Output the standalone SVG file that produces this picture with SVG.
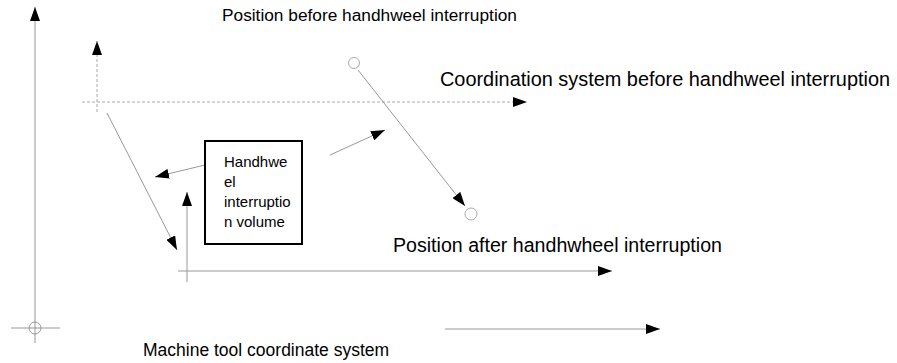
<svg xmlns="http://www.w3.org/2000/svg" width="897" height="363" viewBox="0 0 897 363">
<defs>
<style>
text{font-family:"Liberation Sans",Arial,sans-serif;fill:#000}
.ax{stroke:#999;stroke-width:1;fill:none}
.lt{stroke:#ccc;stroke-width:2;fill:none}
.da{stroke:#aaa;stroke-width:1;stroke-dasharray:3,2;fill:none}
.th{stroke:#999;stroke-width:1;fill:none}
.ci{stroke:#aaa;stroke-width:1;fill:#fff}
.co{stroke:#999;stroke-width:1;fill:none}
</style>
<marker id="ah" viewBox="0 0 14 10" refX="14" refY="5" markerWidth="14" markerHeight="10" markerUnits="userSpaceOnUse" orient="auto">
<path d="M0,0 L14,5 L0,10 Z" fill="#000"/>
</marker>
</defs>
<rect width="897" height="363" fill="#fff"/>
<g id="connectors">
<line class="ax" x1="35" y1="343" x2="35" y2="7" marker-end="url(#ah)"/>
<line class="ax" x1="11" y1="328" x2="60" y2="328"/>
<line class="lt" x1="445" y1="329" x2="660" y2="329" marker-end="url(#ah)"/>
<line class="da" x1="97" y1="112" x2="97" y2="41" marker-end="url(#ah)"/>
<line class="da" x1="82" y1="102" x2="527" y2="102" marker-end="url(#ah)"/>
<line class="th" x1="107" y1="113" x2="177" y2="250" marker-end="url(#ah)"/>
<line class="ax" x1="187" y1="282" x2="187" y2="192" marker-end="url(#ah)"/>
<line class="ax" x1="178" y1="271" x2="612" y2="271" marker-end="url(#ah)"/>
<line class="th" x1="205" y1="165" x2="155" y2="177" marker-end="url(#ah)"/>
<line class="th" x1="330" y1="155" x2="385" y2="130" marker-end="url(#ah)"/>
<line class="th" x1="358" y1="70" x2="465" y2="206" marker-end="url(#ah)"/>
</g>
<g id="origin"><circle class="co" cx="35" cy="328" r="6"/></g>
<g id="pos-before"><circle class="ci" cx="354" cy="63" r="5.5"/></g>
<g id="pos-after"><circle class="ci" cx="471" cy="214" r="6"/></g>
<g id="volume-box">
<rect x="205" y="141" width="97" height="103" fill="#fff" stroke="#000" stroke-width="2"/>
<text font-size="15"><tspan x="224" y="167">Handhwe</tspan><tspan x="224" y="187">el</tspan><tspan x="224" y="207">interruptio</tspan><tspan x="224" y="227">n volume</tspan></text>
</g>
<g id="labels">
<text x="222" y="21" font-size="17.3">Position before handhweel interruption</text>
<text x="440" y="86" font-size="19.9">Coordination system before handhweel interruption</text>
<text x="393" y="252" font-size="19.6">Position after handhwheel interruption</text>
<text x="143" y="356" font-size="17.5">Machine tool coordinate system</text>
</g>
</svg>
